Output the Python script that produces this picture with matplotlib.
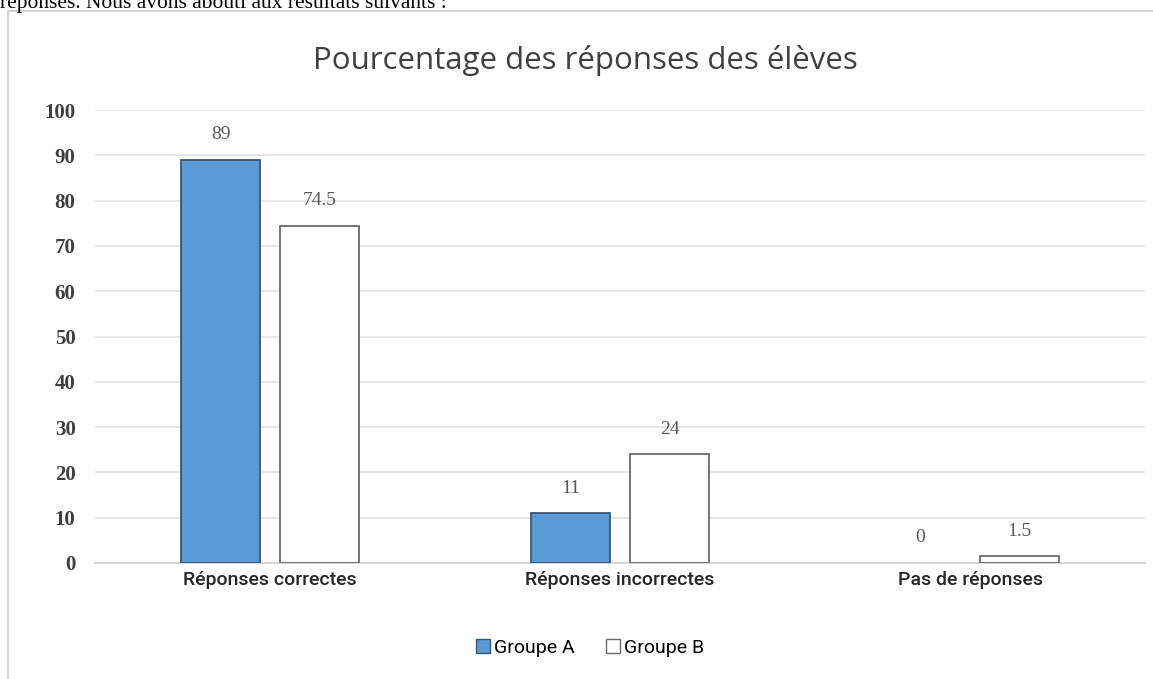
import matplotlib
matplotlib.use("Agg")
import matplotlib.pyplot as plt
from matplotlib.patches import Rectangle, Patch
import numpy as np

categories = ["Réponses correctes", "Réponses incorrectes", "Pas de réponses"]
groupe_a = [89, 11, 0]
groupe_b = [74.5, 24, 1.5]
labels_a = ["89", "11", "0"]
labels_b = ["74.5", "24", "1.5"]
yticks = [0, 10, 20, 30, 40, 50, 60, 70, 80, 90, 100]
title = "Pourcentage des réponses des élèves"
top_text = "réponses. Nous avons abouti aux résultats suivants :"

W, H = 1153, 679
fig = plt.figure(figsize=(W / 100, H / 100), dpi=100)
fig.patch.set_facecolor("white")

# document text cut off at top (as in the reference screenshot)
fig.text(0, 1 - 8 / H, top_text, family=["Liberation Serif", "DejaVu Serif"],
         fontsize=15.5, va="baseline", ha="left", color="black")

# chart frame
fig.add_artist(Rectangle((8 / W, -0.1), 1.2, 1 - 11 / H + 0.1, transform=fig.transFigure,
                         fill=False, edgecolor="#d4d4d4", linewidth=1.6, zorder=0))

ax = fig.add_axes([95 / W, 1 - 563 / H, (1145 - 95) / W, (563 - 110) / H])
x = np.arange(len(categories))
off = 0.1414
bw = 0.2257
ax.bar(x - off, groupe_a, bw, color="#5B9BD5", edgecolor="#34577a",
       linewidth=[1.3 if v > 0 else 0 for v in groupe_a], label="Groupe A", zorder=3)
ax.bar(x + off, groupe_b, bw, color="white", edgecolor="#6b6b6b",
       linewidth=[1.3 if v > 0 else 0 for v in groupe_b], label="Groupe B", zorder=3)

lab_font = dict(family=["Liberation Serif", "DejaVu Serif"], fontsize=14, color="#595959")
for xi, v, t in zip(x - off, groupe_a, labels_a):
    ax.annotate(t, (xi, v), xytext=(0, 12), textcoords="offset points",
                ha="center", va="bottom", **lab_font)
for xi, v, t in zip(x + off, groupe_b, labels_b):
    ax.annotate(t, (xi, v), xytext=(0, 12), textcoords="offset points",
                ha="center", va="bottom", **lab_font)

ax.set_xlim(-0.5, 2.5)
ax.set_ylim(0, 100)
ax.set_yticks(yticks)
ax.set_yticklabels([str(v) for v in yticks], family=["Liberation Serif", "DejaVu Serif"],
                   fontweight="bold", fontsize=15, color="#404040")
ax.set_xticks(x)
ax.set_xticklabels(categories, family=["Roboto", "DejaVu Sans"], fontweight="medium",
                   fontsize=14, color="#262626")
ax.tick_params(axis="y", length=0, pad=14)
ax.tick_params(axis="x", length=0, pad=6)
ax.grid(axis="y", color="#e3e3e3", linewidth=1.2, zorder=0)
ax.set_axisbelow(True)
for s in ["top", "right", "left"]:
    ax.spines[s].set_visible(False)
ax.spines["bottom"].set_color("#cfcfcf")
ax.spines["bottom"].set_linewidth(1.2)

fig.text(585 / W, 1 - 60 / H, title, family=["Open Sans", "DejaVu Sans"],
         fontsize=22.5, ha="center", va="center", color="#404040")

handles = [Patch(facecolor="#5B9BD5", edgecolor="#34577a", linewidth=1.0, label="Groupe A"),
           Patch(facecolor="white", edgecolor="#6b6b6b", linewidth=1.0, label="Groupe B")]
fig.legend(handles=handles, loc="center", bbox_to_anchor=(590 / W, 1 - 648 / H), ncol=2,
           frameon=False, handlelength=0.75, handleheight=0.75, handletextpad=0.2,
           columnspacing=1.6, prop={"family": ["Roboto", "DejaVu Sans"], "size": 14})

fig.savefig("out.png", dpi=100, facecolor="white")
